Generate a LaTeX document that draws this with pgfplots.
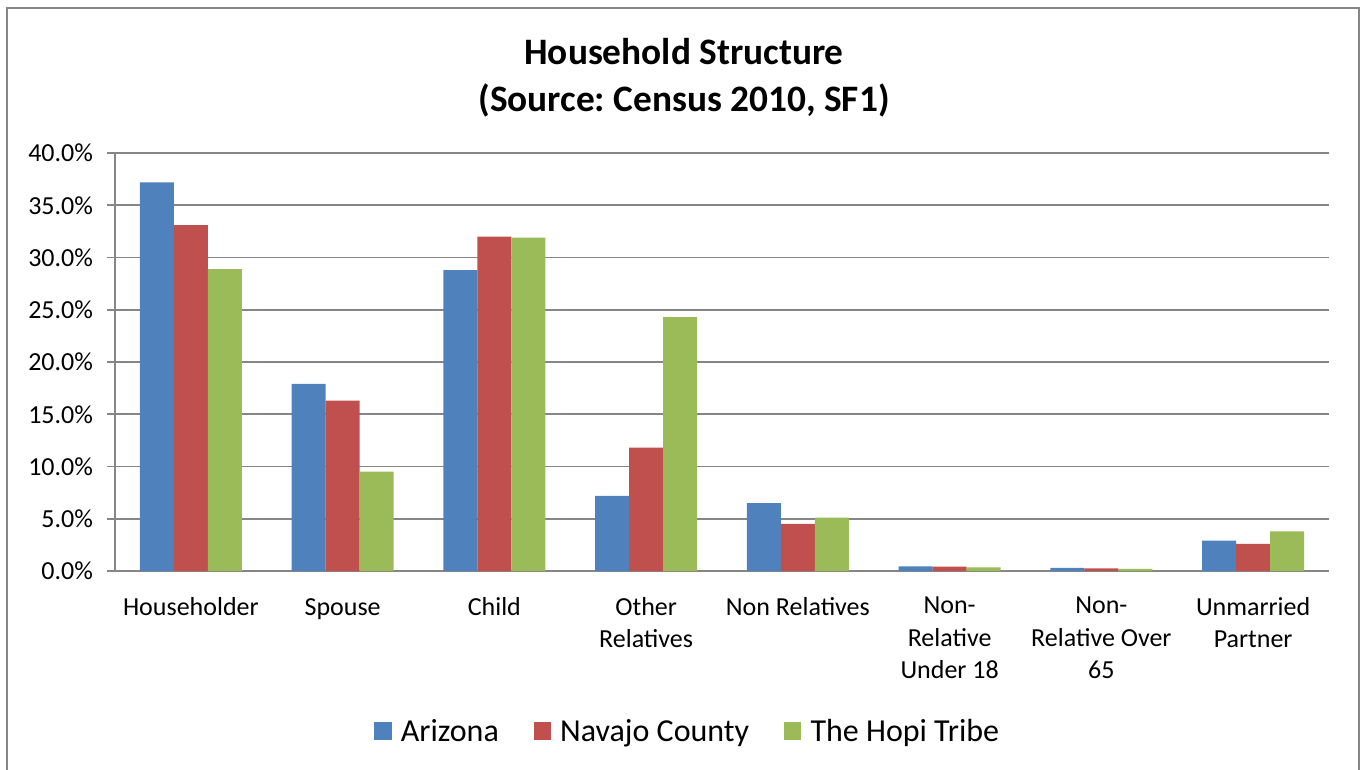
\documentclass[border=0pt]{standalone}
\usepackage{pgfplots}
\pgfplotsset{compat=1.18}
\usepackage{fontspec}
\setmainfont{Carlito}
\frenchspacing
\definecolor{azc}{HTML}{4F81BD}
\definecolor{nvc}{HTML}{C0504D}
\definecolor{hpc}{HTML}{9BBB59}
\definecolor{gridc}{HTML}{868686}
\begin{document}
\begin{tikzpicture}
\useasboundingbox (0pt,0pt) rectangle (1023.75pt,576.75pt);
\draw[gridc, line width=1.5pt] (5.25pt,-20pt) -- (5.25pt,571.1pt) -- (1018.9pt,571.1pt) -- (1018.9pt,-20pt);
\node[font=\bfseries\fontsize{28}{32}\selectfont] at (513pt,537.75pt) {Household Structure};
\node[font=\bfseries\fontsize{28}{32}\selectfont] at (513pt,501.75pt) {(Source: Census 2010, SF1)};
\begin{axis}[
  at={(86.25pt,148.5pt)}, anchor=south west,
  scale only axis, width=910.5pt, height=313.5pt,
  ybar=0pt, bar width=25.5pt,
  xmin=-0.5, xmax=7.5, ymin=0, ymax=40,
  axis x line*=bottom, axis y line*=left,
  axis line style={gridc, line width=1.3pt},
  ytick={0,5,...,40},
  yticklabel={\pgfmathprintnumber[fixed,fixed zerofill,precision=1]{\tick}\%},
  /pgf/number format/assume math mode=true,
  ymajorgrids, major grid style={gridc, line width=1.3pt},
  tick style={gridc, line width=1.3pt},
  tick align=outside, major tick length=6pt,
  yticklabel style={font=\fontsize{19.5}{24}\selectfont, text=black, xshift=-7pt},
  xtick={0,...,7},
  xticklabels={Householder, {\vphantom{h}Spouse}, Child, {Other\\Relatives}, Non Relatives, {Non-\\Relative\\Under 18}, {Non-\\Relative Over\\65}, {Unmarried\\Partner}},
  x tick style={draw=none},
  xticklabel style={font=\fontsize{19.5}{24.3}\selectfont, align=center, text=black, yshift=-10pt},
  extra x ticks={-0.5,0.5,...,7.5},
  extra x tick labels={},
  extra x tick style={grid=none, tick style={draw=gridc, line width=1.3pt}, major tick length=6pt},
  legend columns=3,
  legend style={at={(0.472,-0.383)}, anchor=center, draw=none, fill=none,
    font=\fontsize{24}{27}\selectfont,
    /tikz/every even column/.append style={column sep=24pt}},
  legend image code/.code={\fill[#1] (0pt,-6.5pt) rectangle (13pt,6.5pt); \path (18pt,0pt);},
]
\addplot[fill=azc, draw=none] coordinates {(0,37.2) (1,17.9) (2,28.8) (3,7.2) (4,6.5) (5,0.45) (6,0.3) (7,2.9)};
\addplot[fill=nvc, draw=none] coordinates {(0,33.1) (1,16.3) (2,32.0) (3,11.8) (4,4.5) (5,0.42) (6,0.25) (7,2.6)};
\addplot[fill=hpc, draw=none] coordinates {(0,28.9) (1,9.5) (2,31.9) (3,24.3) (4,5.1) (5,0.35) (6,0.2) (7,3.8)};
\legend{Arizona, Navajo County, The Hopi Tribe}
\end{axis}
\end{tikzpicture}
\end{document}
